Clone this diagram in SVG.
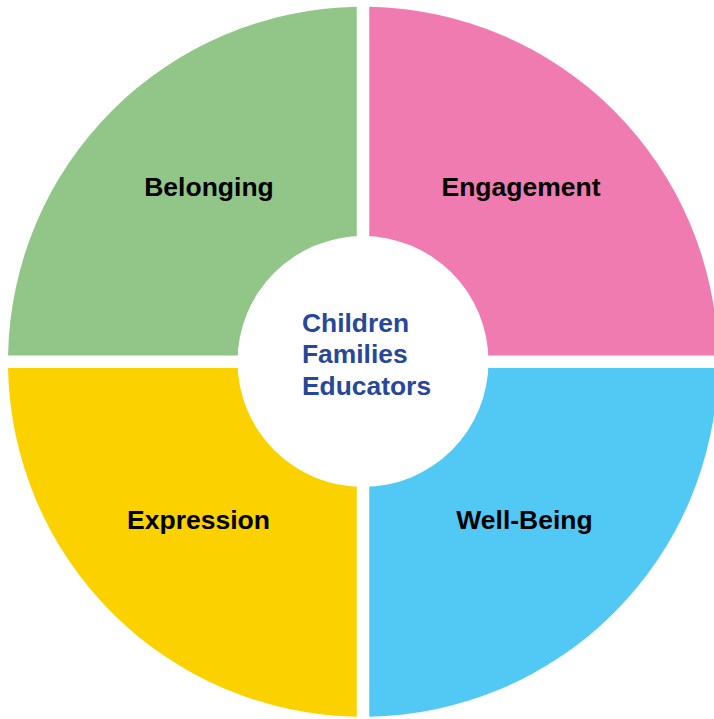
<svg xmlns="http://www.w3.org/2000/svg" width="714" height="719" viewBox="0 0 714 719">
  <style>
    .label { font-family: "Liberation Sans", Arial, Helvetica, sans-serif; font-weight: bold; font-size: 26.5px; fill: #000000; text-anchor: middle; }
    .core { font-family: "Liberation Sans", Arial, Helvetica, sans-serif; font-weight: bold; font-size: 26.4px; fill: #27479b; }
  </style>
  <rect width="714" height="719" fill="#ffffff"/>

  <!-- four quadrants of the ring, separated by white gaps -->
  <g id="belonging">
    <path d="M356.75 355.5 V6.8 A355 355 0 0 0 8.05 355.5 Z" fill="#92c688"/>
    <text class="label" x="209" y="196">Belonging</text>
  </g>
  <g id="engagement">
    <path d="M369.25 355.5 V6.8 A355 355 0 0 1 717.95 355.5 Z" fill="#f07bb0"/>
    <text class="label" x="521" y="196">Engagement</text>
  </g>
  <g id="expression">
    <path d="M356.75 368 V716.7 A355 355 0 0 1 8.05 368 Z" fill="#fcd100"/>
    <text class="label" x="198.5" y="529">Expression</text>
  </g>
  <g id="well-being">
    <path d="M369.25 368 H717.95 A355 355 0 0 1 369.25 716.7 Z" fill="#52c9f4"/>
    <text class="label" x="524.5" y="529">Well-Being</text>
  </g>

  <!-- central hub -->
  <g id="hub">
    <circle cx="363" cy="361.5" r="125.5" fill="#ffffff"/>
    <text class="core" x="302" y="331.7">Children</text>
    <text class="core" x="302" y="363.3">Families</text>
    <text class="core" x="302" y="395">Educators</text>
  </g>

  <g id="connectors"/>
</svg>
